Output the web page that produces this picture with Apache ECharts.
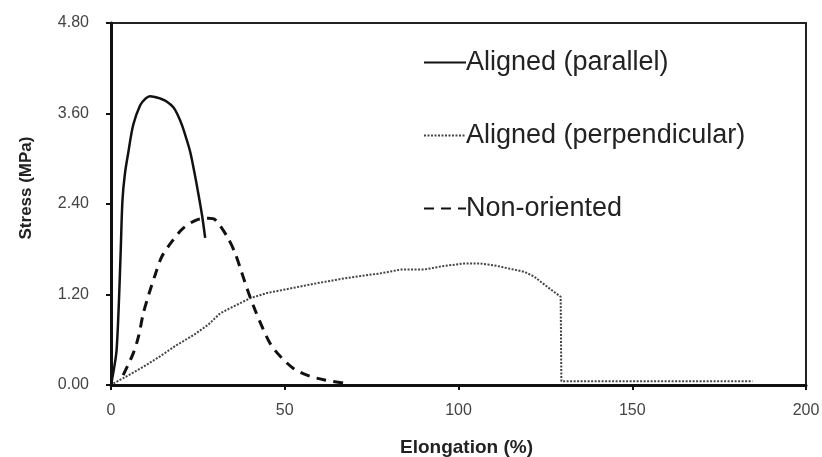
<!DOCTYPE html>
<html>
<head>
<meta charset="utf-8">
<script src="https://cdn.jsdelivr.net/npm/echarts@6/dist/echarts.min.js"></script>
<style>
  html, body { margin: 0; padding: 0; background: #fff; }
  #chart { width: 822px; height: 457px; }
</style>
</head>
<body>
<div id="chart"></div>
<script>
// Elongation (%) and stress (MPa)
var parallelX = [0, 0.8, 1.6, 2.3, 2.8, 3.3, 4.0, 5.0, 6.4, 8.4, 10.0, 11.2, 12.6, 14.1, 16.0, 18.0, 19.2, 20.4, 21.6, 22.8, 24.0, 25.2, 26.2, 27.1];
var parallelY = [0, 0.2, 0.46, 1.13, 1.79, 2.45, 2.80, 3.09, 3.45, 3.71, 3.80, 3.83, 3.82, 3.80, 3.76, 3.68, 3.58, 3.45, 3.28, 3.09, 2.82, 2.52, 2.25, 1.95];

var perpX = [0.7, 3.5, 9.3, 14.1, 18.9, 23.7, 28.0, 31.4, 35.2, 40.0, 44.9, 51.6, 59.3, 67.9, 77.5, 83.3, 90, 96, 101.5, 106.3, 111, 115.9, 119, 121.7, 125.6, 129.4, 129.6, 140, 150, 160, 170, 184.6];
var perpY = [0.02, 0.09, 0.24, 0.38, 0.53, 0.66, 0.80, 0.95, 1.04, 1.15, 1.22, 1.28, 1.35, 1.42, 1.48, 1.53, 1.53, 1.58, 1.61, 1.61, 1.58, 1.53, 1.50, 1.44, 1.30, 1.17, 0.05, 0.05, 0.05, 0.05, 0.05, 0.05];

var nonX = [3.5, 6.4, 7.9, 9.3, 11.0, 12.7, 14.6, 17.5, 20.8, 24.7, 28.0, 30.0, 33.4, 35.7, 37.7, 39.6, 41.5, 43.5, 45.8, 48.7, 52.5, 56.4, 61.2, 67.5];
var nonY = [0.13, 0.42, 0.64, 0.95, 1.22, 1.46, 1.70, 1.90, 2.08, 2.19, 2.21, 2.19, 1.97, 1.75, 1.48, 1.22, 0.99, 0.77, 0.55, 0.38, 0.22, 0.13, 0.07, 0.02];

var seriesNames = ['Aligned (parallel)', 'Aligned (perpendicular)', 'Non-oriented'];
var xTicks = [0, 200, 50];     // min, max, interval
var yTicks = [0, 4.8, 1.2];

function pairs(xs, ys) {
    var out = [];
    for (var i = 0; i < xs.length; i++) {
        out.push([xs[i], ys[i]]);
    }
    return out;
}

var myChart = echarts.init(document.getElementById('chart'));

var option = {
    animation: false,
    textStyle: { fontFamily: 'Liberation Sans, Arial, sans-serif' },
    grid: {
        left: 111, right: 16, top: 23, bottom: 72,
        outerBoundsMode: 'none',
        show: true,
        borderColor: '#222',
        borderWidth: 2
    },
    legend: {
        orient: 'vertical',
        left: 418,
        top: 44,
        itemWidth: 42,
        itemHeight: 14,
        itemGap: 46,
        data: seriesNames,
        itemStyle: { opacity: 0 },
        textStyle: {
            fontSize: 27,
            color: '#222',
            padding: [0, 0, 0, -5]
        }
    },
    xAxis: {
        type: 'value',
        min: xTicks[0], max: xTicks[1], interval: xTicks[2],
        name: 'Elongation (%)',
        nameLocation: 'middle',
        nameGap: 53,
        nameTextStyle: { fontSize: 19, fontWeight: 'bold', color: '#222', padding: [0, 0, 0, 16] },
        axisLine: { lineStyle: { color: '#111', width: 3 } },
        axisTick: { length: 5, lineStyle: { color: '#111', width: 2 } },
        axisLabel: { fontSize: 16, color: '#444', margin: 18 },
        splitLine: { show: false }
    },
    yAxis: {
        type: 'value',
        min: yTicks[0], max: yTicks[1], interval: yTicks[2],
        name: 'Stress (MPa)',
        nameLocation: 'middle',
        nameGap: 76,
        nameTextStyle: { fontSize: 17, fontWeight: 'bold', color: '#222', padding: [0, 0, 0, 32] },
        axisLine: { show: true, lineStyle: { color: '#111', width: 3 } },
        axisTick: { show: true, length: 5, lineStyle: { color: '#111', width: 2 } },
        axisLabel: {
            fontSize: 16, color: '#444', margin: 22,
            formatter: function (v) { return v.toFixed(2); }
        },
        splitLine: { show: false }
    },
    series: [{
        name: seriesNames[0],
        type: 'line',
        symbol: 'none',
        smooth: 0.3,
        lineStyle: { color: '#111', width: 2.5, type: 'solid' },
        itemStyle: { color: '#111' },
        data: pairs(parallelX, parallelY)
    }, {
        name: seriesNames[1],
        type: 'line',
        symbol: 'none',
        lineStyle: { color: '#444', width: 2, type: [2, 1.5] },
        itemStyle: { color: '#444' },
        data: pairs(perpX, perpY)
    }, {
        name: seriesNames[2],
        type: 'line',
        symbol: 'none',
        smooth: 0.3,
        lineStyle: { color: '#111', width: 3, type: [10, 7] },
        itemStyle: { color: '#111' },
        data: pairs(nonX, nonY)
    }]
};

myChart.setOption(option);
</script>
</body>
</html>
